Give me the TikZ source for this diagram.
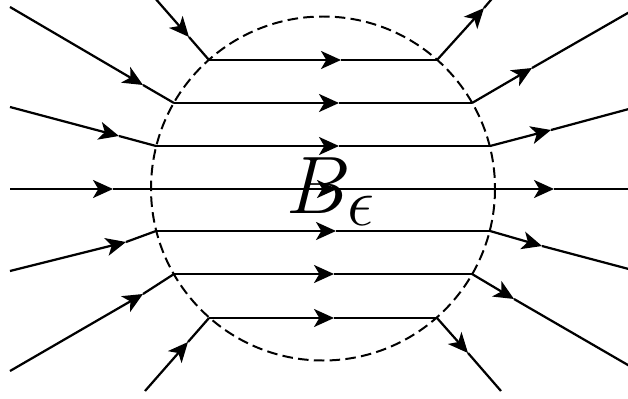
\documentclass[tikz,border=0pt]{standalone}
\usetikzlibrary{arrows.meta}
\begin{document}
\begin{tikzpicture}[x=0.03cm,y=-0.03cm,
  fl/.style={line width=1.9pt, line join=round},
  fla/.style={fl,-{Stealth[length=0.6cm,width=0.54cm,inset=0.16cm]}},
  ball/.style={line width=1.7pt, dash pattern=on 9pt off 4.5pt}]
\useasboundingbox (0,0) rectangle (628,398);
\clip (0,0) rectangle (628,398);
% ball
\coordinate (c) at (323,188.5);
\draw[ball] (c) circle[radius=172];
% chord end points
\coordinate (L1) at (209,60);  \coordinate (R1) at (437,60);
\coordinate (L2) at (174,103); \coordinate (R2) at (472,103);
\coordinate (L3) at (156,146); \coordinate (R3) at (490,146);
\coordinate (L4) at (151,189); \coordinate (R4) at (495,189);
\coordinate (L5) at (156,231); \coordinate (R5) at (490,231);
\coordinate (L6) at (174,274); \coordinate (R6) at (472,274);
\coordinate (L7) at (209,318); \coordinate (R7) at (437,318);
% inner arrow tips
\coordinate (M1) at (341,60);
\coordinate (M2) at (339,103);
\coordinate (M3) at (339,146);
\coordinate (M4) at (337,189);
\coordinate (M5) at (336,231);
\coordinate (M6) at (334,274);
\coordinate (M7) at (334,318);
% outer start points (left) and end points (right)
\coordinate (A1) at (140,-19);  \coordinate (B1) at (496,-6);
\coordinate (A2) at (10,7);     \coordinate (B2) at (640,6);
\coordinate (A3) at (10,107);   \coordinate (B3) at (640,106);
\coordinate (A4) at (10,189);   \coordinate (B4) at (640,189);
\coordinate (A5) at (10,271);   \coordinate (B5) at (640,272);
\coordinate (A6) at (10,371);   \coordinate (B6) at (640,372);
\coordinate (A7) at (145,391);  \coordinate (B7) at (501,391);
% outer arrow tips (left)
\coordinate (P1) at (189,37);
\coordinate (P2) at (143,85);
\coordinate (P3) at (119,136);
\coordinate (P4) at (113,189);
\coordinate (P5) at (126,242);
\coordinate (P6) at (143,294);
\coordinate (P7) at (188,342);
% outer arrow tips (right)
\coordinate (Q1) at (484,8);
\coordinate (Q2) at (532,68);
\coordinate (Q3) at (551,130);
\coordinate (Q4) at (554,189);
\coordinate (Q5) at (542,246);
\coordinate (Q6) at (514,299);
\coordinate (Q7) at (468,353);
\foreach \i in {1,...,7}{
  \draw[fla] (A\i) -- (P\i);
  \draw[fl] (P\i) -- (L\i);
  \draw[fla] (L\i) -- (M\i);
  \draw[fl] (M\i) -- (R\i);
  \draw[fla] (R\i) -- (Q\i);
  \draw[fl] (Q\i) -- (B\i);
}
\node (lbl) [anchor=base west, inner sep=0pt, font=\Huge, scale=2.8] at (286,213) {$B_\epsilon$};
\end{tikzpicture}
\end{document}
